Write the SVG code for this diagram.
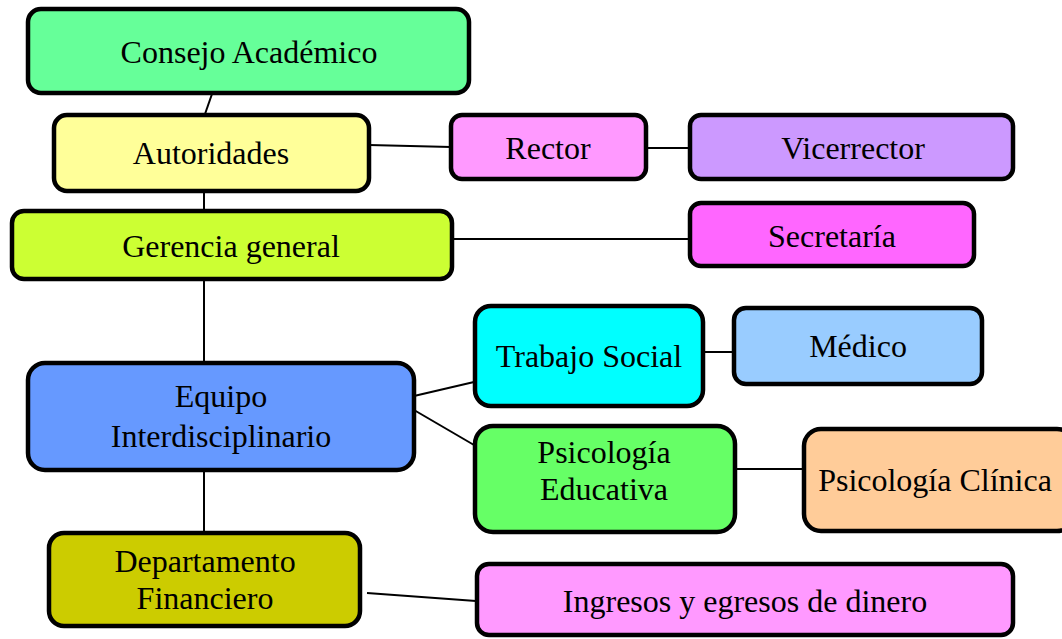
<svg xmlns="http://www.w3.org/2000/svg" width="1062" height="639" viewBox="0 0 1062 639">
<style>
.box{stroke:#000;stroke-width:4.5}
.lbl{font-family:"Liberation Serif","Times New Roman",serif;font-size:32px;fill:#000;text-anchor:middle}
.con{stroke:#000;stroke-width:2;fill:none}
</style>
<rect width="1062" height="639" fill="#fff"/>
<g id="connectors">
<line class="con" x1="212" y1="94" x2="205" y2="114"/>
<line class="con" x1="204" y1="192" x2="204" y2="210"/>
<line class="con" x1="369" y1="145" x2="451" y2="147"/>
<line class="con" x1="646" y1="148" x2="690" y2="148"/>
<line class="con" x1="452" y1="239" x2="690" y2="239"/>
<line class="con" x1="204" y1="280" x2="204" y2="362"/>
<line class="con" x1="414" y1="396" x2="474" y2="382"/>
<line class="con" x1="414" y1="410" x2="474" y2="445"/>
<line class="con" x1="703" y1="352" x2="733" y2="352"/>
<line class="con" x1="735" y1="469" x2="803" y2="469"/>
<line class="con" x1="204" y1="471" x2="204" y2="532"/>
<line class="con" x1="367" y1="593" x2="476" y2="601"/>
</g>
<g id="consejo">
<rect class="box" x="28" y="9" width="441" height="84" rx="13" fill="#66FF99"/>
<text class="lbl" x="249" y="63">Consejo Académico</text>
</g>
<g id="autoridades">
<rect class="box" x="54" y="115" width="315" height="76" rx="13" fill="#FFFF99"/>
<text class="lbl" x="211" y="164">Autoridades</text>
</g>
<g id="rector">
<rect class="box" x="451" y="115" width="195" height="64" rx="11" fill="#FF99FF"/>
<text class="lbl" x="548" y="159">Rector</text>
</g>
<g id="vicerrector">
<rect class="box" x="690" y="115" width="323" height="64" rx="11" fill="#CC99FF"/>
<text class="lbl" x="853" y="159">Vicerrector</text>
</g>
<g id="gerencia">
<rect class="box" x="12" y="211" width="440" height="68" rx="12" fill="#CCFF33"/>
<text class="lbl" x="231" y="257">Gerencia general</text>
</g>
<g id="secretaria">
<rect class="box" x="690" y="203" width="284" height="63" rx="11" fill="#FF66FF"/>
<text class="lbl" x="832" y="247">Secretaría</text>
</g>
<g id="equipo">
<rect class="box" x="28" y="363" width="386" height="107" rx="17" fill="#6699FF"/>
<text class="lbl" x="221" y="407">Equipo</text>
<text class="lbl" x="221" y="447">Interdisciplinario</text>
</g>
<g id="trabajo">
<rect class="box" x="475" y="306" width="228" height="100" rx="16" fill="#00FFFF"/>
<text class="lbl" x="589" y="367">Trabajo Social</text>
</g>
<g id="medico">
<rect class="box" x="734" y="308" width="248" height="76" rx="12" fill="#99CCFF"/>
<text class="lbl" x="858" y="357">Médico</text>
</g>
<g id="psicoedu">
<rect class="box" x="475" y="426" width="260" height="106" rx="18" fill="#66FF66"/>
<text class="lbl" x="604" y="463">Psicología</text>
<text class="lbl" x="604" y="500">Educativa</text>
</g>
<g id="psicoclin">
<rect class="box" x="804" y="429" width="270" height="102" rx="17" fill="#FFCC99"/>
<text class="lbl" x="935" y="491">Psicología Clínica</text>
</g>
<g id="departamento">
<rect class="box" x="49" y="533" width="311" height="93" rx="15" fill="#CCCC00"/>
<text class="lbl" x="205" y="572">Departamento</text>
<text class="lbl" x="205" y="609">Financiero</text>
</g>
<g id="ingresos">
<rect class="box" x="477" y="564" width="536" height="71" rx="12" fill="#FF99FF"/>
<text class="lbl" x="745" y="612">Ingresos y egresos de dinero</text>
</g>
</svg>
